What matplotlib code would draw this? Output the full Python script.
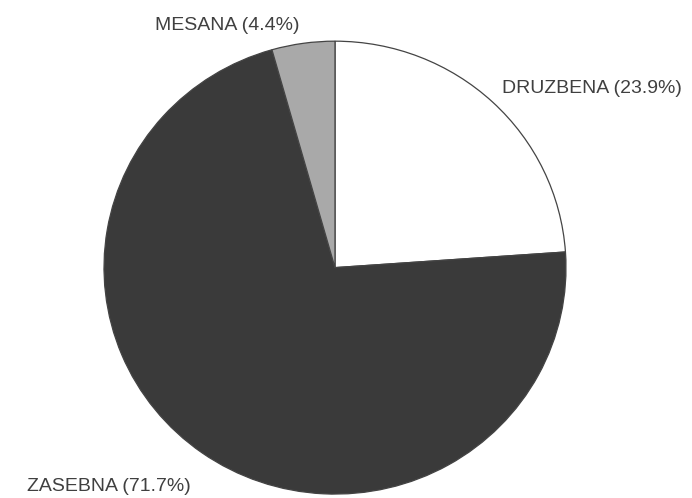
import matplotlib.pyplot as plt

labels = ["DRUZBENA", "ZASEBNA", "MESANA"]
shares = [23.9, 71.7, 4.4]
colors = ["#ffffff", "#3a3a3a", "#a9a9a9"]

fig = plt.figure(figsize=(6.92, 4.98), dpi=100)
ax = fig.add_axes([0, 0, 1, 1])

# scan is slightly squashed vertically, so y runs 0..508 over 498 px
ax.pie(shares, colors=colors, startangle=90, counterclock=False,
       center=(335, 235), radius=231, frame=True,
       wedgeprops=dict(edgecolor="#444444", linewidth=0.9))
ax.set_xlim(0, 692)
ax.set_ylim(0, 508)
ax.set_aspect("auto")
ax.axis("off")

font = dict(family="Liberation Sans", fontsize=14, color="#404040")
ax.text(502, 418, f"{labels[0]} ({shares[0]}%)", ha="left", va="center", **font)
ax.text(27, 12, f"{labels[1]} ({shares[1]}%)", ha="left", va="center", **font)
ax.text(155, 482, f"{labels[2]} ({shares[2]}%)", ha="left", va="center", **font)

fig.savefig("out.png", dpi=100)
